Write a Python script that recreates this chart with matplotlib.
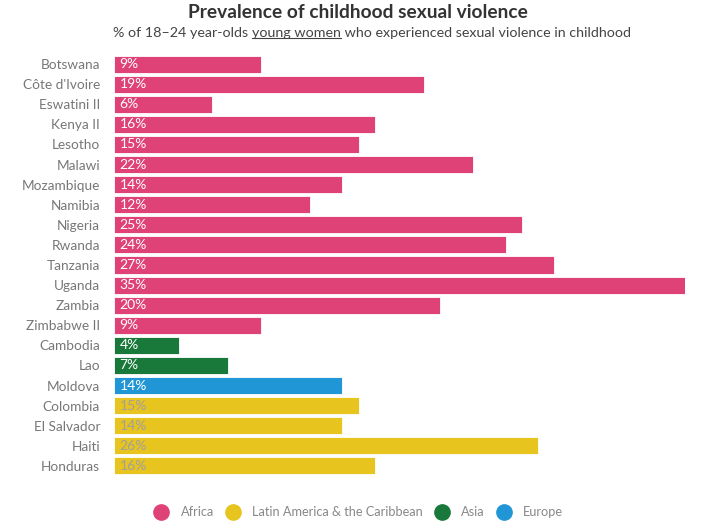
import matplotlib
matplotlib.use("Agg")
import matplotlib.pyplot as plt
from matplotlib.lines import Line2D

countries = ["Botswana", "Côte d'Ivoire", "Eswatini II", "Kenya II", "Lesotho", "Malawi",
             "Mozambique", "Namibia", "Nigeria", "Rwanda", "Tanzania", "Uganda", "Zambia",
             "Zimbabwe II", "Cambodia", "Lao", "Moldova", "Colombia", "El Salvador", "Haiti",
             "Honduras"]
values = [9, 19, 6, 16, 15, 22, 14, 12, 25, 24, 27, 35, 20, 9, 4, 7, 14, 15, 14, 26, 16]
regions = ["Africa"] * 14 + ["Asia"] * 2 + ["Europe"] + ["Latin America & the Caribbean"] * 4

region_colors = {
    "Africa": "#DF4277",
    "Latin America & the Caribbean": "#E8C41E",
    "Asia": "#18793A",
    "Europe": "#2196D6",
}
legend_order = ["Africa", "Latin America & the Caribbean", "Asia", "Europe"]

plt.rcParams['font.family'] = ['Lato', 'DejaVu Sans']

fig = plt.figure(figsize=(7.04, 5.30), dpi=100)
ax = fig.add_axes([114 / 704, 1 - 476 / 530, 571 / 704, 422 / 530])

ypos = list(range(len(countries)))
colors = [region_colors[r] for r in regions]
ax.barh(ypos, values, height=0.85, color=colors, edgecolor="white", linewidth=0.6)

for y, v, r in zip(ypos, values, regions):
    tc = "#A0A0A0" if r.startswith("Latin") else "white"
    ax.text(0.35, y, f"{v}%", va="center", ha="left", color=tc, fontsize=10)

ax.set_xlim(0, 35)
ax.set_ylim(len(countries) - 0.5, -0.5)
ax.set_yticks(ypos)
ax.set_yticklabels(countries, fontsize=9.8, color="#777777")
ax.tick_params(axis="y", length=0, pad=10)
ax.set_xticks([])
for s in ax.spines.values():
    s.set_visible(False)

# title
fig.text(0.5 + 6 / 704, 1 - 12 / 530, "Prevalence of childhood sexual violence", ha="center",
         va="center", fontsize=13.8, fontweight="bold", color="#333333")

# subtitle with underlined part
parts = ["% of 18–24 year-olds ", "young women", " who experienced sexual violence in childhood"]
sub_y = 1 - 33 / 530
texts = [fig.text(0, sub_y, p, ha="left", va="center", fontsize=10.3, color="#444444") for p in parts]
fig.canvas.draw()
r = fig.canvas.get_renderer()
widths = [t.get_window_extent(r).width for t in texts]
total = sum(widths)
x = 372 - total / 2
for t, w in zip(texts, widths):
    t.set_x(x / 704)
    x += w
bb = texts[1].get_window_extent(r)
uy = (bb.y0 + 1) / 530
fig.add_artist(Line2D([texts[1].get_position()[0], texts[1].get_position()[0] + widths[1] / 704],
                      [uy, uy], color="#444444", linewidth=0.8))

handles = [Line2D([], [], marker="o", linestyle="none", markersize=11,
                  markerfacecolor=region_colors[k], markeredgecolor=region_colors[k])
           for k in legend_order]
leg = fig.legend(handles, legend_order, loc="center", bbox_to_anchor=(356 / 704, 1 - 512 / 530),
                 ncol=4, frameon=False, fontsize=9.2, handletextpad=0.5, columnspacing=0.5)
for t in leg.get_texts():
    t.set_color("#888888")

fig.savefig("out.png", dpi=100)
